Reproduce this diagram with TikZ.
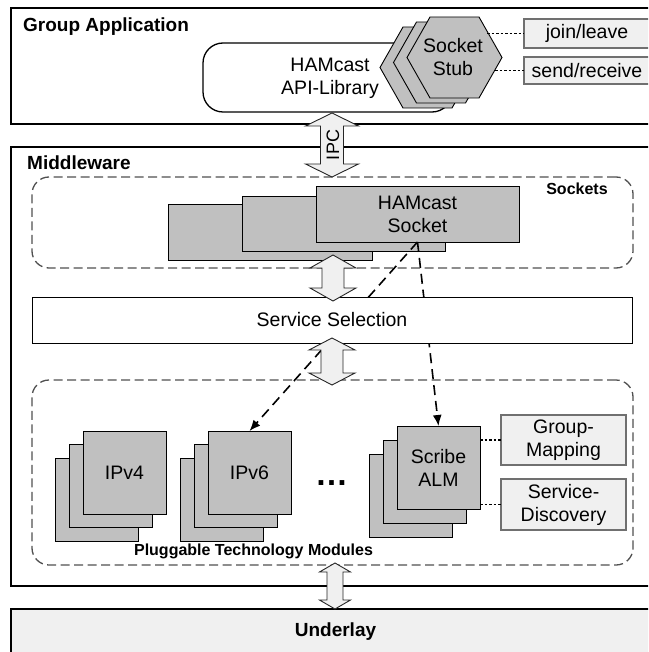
\documentclass[tikz,border=0pt]{standalone}
\usepackage{fontspec}
\setmainfont{Liberation Sans}
\usetikzlibrary{arrows.meta}
\definecolor{boxgray}{HTML}{C0C0C0}
\definecolor{lightfill}{HTML}{F0F0F0}
\definecolor{dashgray}{HTML}{505050}
\definecolor{lightborder}{HTML}{707070}
\newcommand\regfont{\fontsize{19.5}{23}\selectfont}
\newcommand\lblfont{\fontsize{19}{22}\selectfont\bfseries}
\newcommand\smallbold{\fontsize{16}{19}\selectfont\bfseries}
\newcommand\hexpath[2]{(#1-47.5,#2) -- (#1-24.5,#2-40.5) -- (#1+24.5,#2-40.5) -- (#1+47.5,#2) -- (#1+24.5,#2+40.5) -- (#1-24.5,#2+40.5) -- cycle}
\newcommand\dblarr[6]{%
  \draw[blockarrow] (#1,#2) -- (#1+#5,#2+#6) -- (#1+#4,#2+#6) -- (#1+#4,#3-#6) -- (#1+#5,#3-#6) -- (#1,#3)
    -- (#1-#5,#3-#6) -- (#1-#4,#3-#6) -- (#1-#4,#2+#6) -- (#1-#5,#2+#6) -- cycle;}
\begin{document}
\begin{tikzpicture}[x=1pt,y=-1pt,
  outerbox/.style={draw=black, line width=2pt, anchor=north west, inner sep=0pt, outer sep=0pt},
  grp/.style={draw=dashgray, line width=1.3pt, dash pattern=on 9pt off 4.5pt, rounded corners=17pt, anchor=north west, inner sep=0pt, outer sep=0pt},
  graybox/.style={draw=black, line width=0.9pt, fill=boxgray, anchor=north west, inner sep=0pt, outer sep=0pt, font=\regfont, align=center},
  lightbox/.style={draw=lightborder, line width=1.3pt, fill=lightfill, anchor=north west, inner sep=0pt, outer sep=0pt, font=\regfont, align=center},
  hexbox/.style={draw=black, line width=0.9pt, fill=boxgray},
  blockarrow/.style={draw=black!85, line width=0.9pt, fill=lightfill},
  dotconn/.style={line width=1.6pt, dash pattern=on 2.5pt off 2pt},
  dconn/.style={line width=1.6pt, dash pattern=on 10pt off 6pt, -{Latex[length=11pt,width=9pt]}},
  lbl/.style={inner sep=0pt, font=\lblfont},
  txt/.style={inner sep=0pt, font=\regfont, align=center}]
\useasboundingbox (0,0) rectangle (648,652);
\clip (0,0) rectangle (648,652);

% --- Group Application ---
\node[outerbox, minimum width=649pt, minimum height=116pt] (ga) at (11,8) {};
\node[lbl, anchor=west] (galbl) at (23,27) {Group Application};
\node[draw=black, line width=1.3pt, rounded corners=20pt, anchor=north west, inner sep=0pt, outer sep=0pt,
      minimum width=249pt, minimum height=69pt] (api) at (203,43) {};
\node[txt] (apitxt) at (330,78.5) {HAMcast\\API-Library};
\draw[hexbox] \hexpath{427.5}{67.5};
\draw[hexbox] \hexpath{441}{62.5};
\draw[hexbox] \hexpath{454.5}{57.5};
\node[txt] (stub) at (453,57.5) {Socket\\Stub};
\coordinate (hj) at (487,33.5);
\coordinate (hs) at (495,70.5);
\node[lightbox, minimum width=126pt, minimum height=29pt] (jl) at (524,19) {};
\node[txt] (jltxt) at (587,33.5) {join/leave};
\node[lightbox, minimum width=126pt, minimum height=27pt] (sr) at (524,57) {};
\node[txt] (srtxt) at (587,70.5) {send/receive};
\draw[dotconn] (hj) -- (jl.west);
\draw[dotconn] (hs) -- (sr.west);

% --- Middleware ---
\node[outerbox, minimum width=649pt, minimum height=439pt] (mw) at (11,147) {};
\node[lbl, anchor=west] (mwlbl) at (27,163) {Middleware};
\node[grp, minimum width=601pt, minimum height=91pt] (sockgrp) at (32,177) {};
\node[inner sep=0pt, font=\smallbold] (socklbl) at (577,189) {Sockets};
\node[graybox, minimum width=204pt, minimum height=56pt] (s3) at (168,204) {};
\node[graybox, minimum width=203pt, minimum height=55pt] (s2) at (242,196) {};
\node[graybox, minimum width=203pt, minimum height=56pt] (s1) at (316,186) {HAMcast\\Socket};

\node[grp, minimum width=601pt, minimum height=185pt] (ptm) at (32,380) {};
\node[inner sep=0pt, font=\smallbold] (ptmlbl) at (253.5,551) {Pluggable Technology Modules};

% IPv4 stack
\node[graybox, minimum width=83pt, minimum height=83pt] (v4c) at (55,458) {};
\node[graybox, minimum width=83pt, minimum height=83pt] (v4b) at (69,444) {};
\node[graybox, minimum width=83pt, minimum height=83pt] (v4) at (83,431) {IPv4};
% IPv6 stack
\node[graybox, minimum width=83pt, minimum height=83pt] (v6c) at (180,458) {};
\node[graybox, minimum width=83pt, minimum height=83pt] (v6b) at (194,444) {};
\node[graybox, minimum width=83pt, minimum height=83pt] (v6) at (208,431) {IPv6};
\node[inner sep=0pt, font=\fontsize{33}{33}\selectfont\bfseries] (dots) at (331.5,483) {…};
% Scribe stack
\node[graybox, minimum width=83pt, minimum height=83pt] (scc) at (369,454) {};
\node[graybox, minimum width=83pt, minimum height=83pt] (scb) at (383,440) {};
\node[graybox, minimum width=83pt, minimum height=83pt] (sc) at (397,426) {Scribe\\ALM};
\node[lightbox, minimum width=125pt, minimum height=50pt] (gm) at (501,415) {Group-\\Mapping};
\node[lightbox, minimum width=125pt, minimum height=51pt] (sd) at (501,479) {Service-\\Discovery};
\draw[dotconn] (sc.east |- gm.west) -- (gm.west);
\draw[dotconn] (sc.east |- sd.west) -- (sd.west);

% dashed connectors (behind Service Selection)
\draw[dconn] (s1.south) -- (v6.north);
\draw[dconn] (s1.south) -- (sc.north);

\node[draw=black, line width=0.9pt, fill=white, anchor=north west, inner sep=0pt, outer sep=0pt,
      minimum width=600pt, minimum height=46pt] (ss) at (32,297) {};
\node[txt] (sstxt) at (332,320) {Service Selection};

% --- Underlay ---
\node[outerbox, fill=lightfill, minimum width=649pt, minimum height=46pt, font=\lblfont] (ul) at (11,609) {Underlay};

% block arrows
\dblarr{332}{113}{177}{11.5}{26.5}{13}
\node[inner sep=0pt, rotate=90, font=\fontsize{18}{18}\selectfont] (ipc) at (333,145) {IPC};
\dblarr{333}{255}{301}{11}{23}{13}
\dblarr{332}{338}{385}{11}{23}{12}
\dblarr{335}{563}{609}{8}{15.5}{9}
\end{tikzpicture}
\end{document}
